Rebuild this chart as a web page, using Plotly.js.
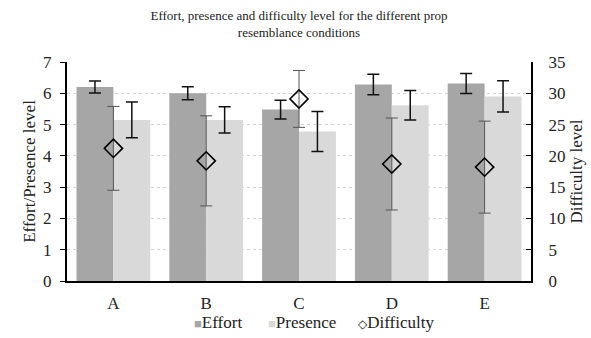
<!DOCTYPE html>
<html><head><meta charset="utf-8">
<script src="https://cdn.plot.ly/plotly-3.0.1.min.js"></script>
<style>html,body{margin:0;padding:0;background:#fff}</style>
</head><body><div id="chart" style="width:591px;height:338px"></div>
<script>
var categories = ['A','B','C','D','E'];
var effort = [6.2, 6.0, 5.48, 6.28, 6.31];
var effortErr = [0.19, 0.21, 0.3, 0.33, 0.32];
var presence = [5.15, 5.15, 4.78, 5.62, 5.9];
var presenceErr = [0.57, 0.42, 0.64, 0.47, 0.5];
var difficulty = [21.2, 19.2, 29.1, 18.7, 18.2];
var difficultyErr = [6.7, 7.2, 4.55, 7.35, 7.35];
var seriesNames = ['Effort', 'Presence', 'Difficulty'];
var seriesColors = ['#a6a6a6', '#d9d9d9', '#000'];

var ff = 'Liberation Serif, Times New Roman, serif';
function F(s){ return {family: ff, size: s, color: '#222'}; }

var traces = [
  {type:'bar', name:seriesNames[0], x:categories, y:effort,
   marker:{color:seriesColors[0]},
   error_y:{type:'data', array:effortErr, visible:true, color:'#111', thickness:1.5, width:6}},
  {type:'bar', name:seriesNames[1], x:categories, y:presence,
   marker:{color:seriesColors[1]},
   error_y:{type:'data', array:presenceErr, visible:true, color:'#111', thickness:1.5, width:6}},
  {type:'scatter', mode:'markers', name:seriesNames[2], x:categories, y:difficulty, yaxis:'y2',
   marker:{symbol:'diamond-open', size:14, color:'#000', line:{width:1.6, color:'#000'}},
   error_y:{type:'data', array:difficultyErr, visible:true, color:'#555', thickness:1, width:6}}
];

var legY = -0.19;
var annotations = [
  {xref:'paper', yref:'paper', x:0.270, y:legY, xanchor:'left', yanchor:'middle', showarrow:false,
   text:'<span style="color:'+seriesColors[0]+';font-size:13px">■</span>'+seriesNames[0], font:F(17)},
  {xref:'paper', yref:'paper', x:0.428, y:legY, xanchor:'left', yanchor:'middle', showarrow:false,
   text:'<span style="color:'+seriesColors[1]+';font-size:13px">■</span>'+seriesNames[1], font:F(17)},
  {xref:'paper', yref:'paper', x:0.622, y:legY, xanchor:'left', yanchor:'middle', showarrow:false,
   text:'<span style="font-size:12px;font-family:DejaVu Sans">◇</span>'+seriesNames[2], font:F(17)}
];

var layout = {
  width:591, height:338,
  margin:{l:67, r:60, t:62, b:57},
  paper_bgcolor:'#fff', plot_bgcolor:'#fff',
  font: F(17),
  title:{text:'Effort, presence and difficulty level for the different prop<br>resemblance conditions',
         x:0.5, xref:'paper', xanchor:'center', yref:'container', y:0.94, yanchor:'top',
         font:F(13)},
  barmode:'group', bargap:0.205, bargroupgap:0,
  showlegend:false,
  annotations: annotations,
  xaxis:{showline:true, linecolor:'#000', linewidth:2, ticks:'', tickfont:F(17),
         ticklabelstandoff:6, zeroline:false},
  yaxis:{range:[0,7], dtick:1, showline:true, linecolor:'#000', linewidth:2, ticks:'outside', ticklen:5,
         tickcolor:'#000', showgrid:true, gridcolor:'#d4d4d4', griddash:'dot', zeroline:false,
         tickfont:F(17), ticklabelstandoff:5,
         title:{text:'Effort/Presence level', font:F(17), standoff:3}},
  yaxis2:{range:[0,35], dtick:5, overlaying:'y', side:'right', showline:true, linecolor:'#000', linewidth:2,
          ticks:'inside', ticklen:5, tickcolor:'#000', showgrid:false, zeroline:false,
          tickfont:F(17), ticklabelstandoff:12,
          title:{text:'Difficulty level', font:F(17), standoff:6}}
};

Plotly.newPlot('chart', traces, layout, {displayModeBar:false, staticPlot:true});
</script></body></html>
